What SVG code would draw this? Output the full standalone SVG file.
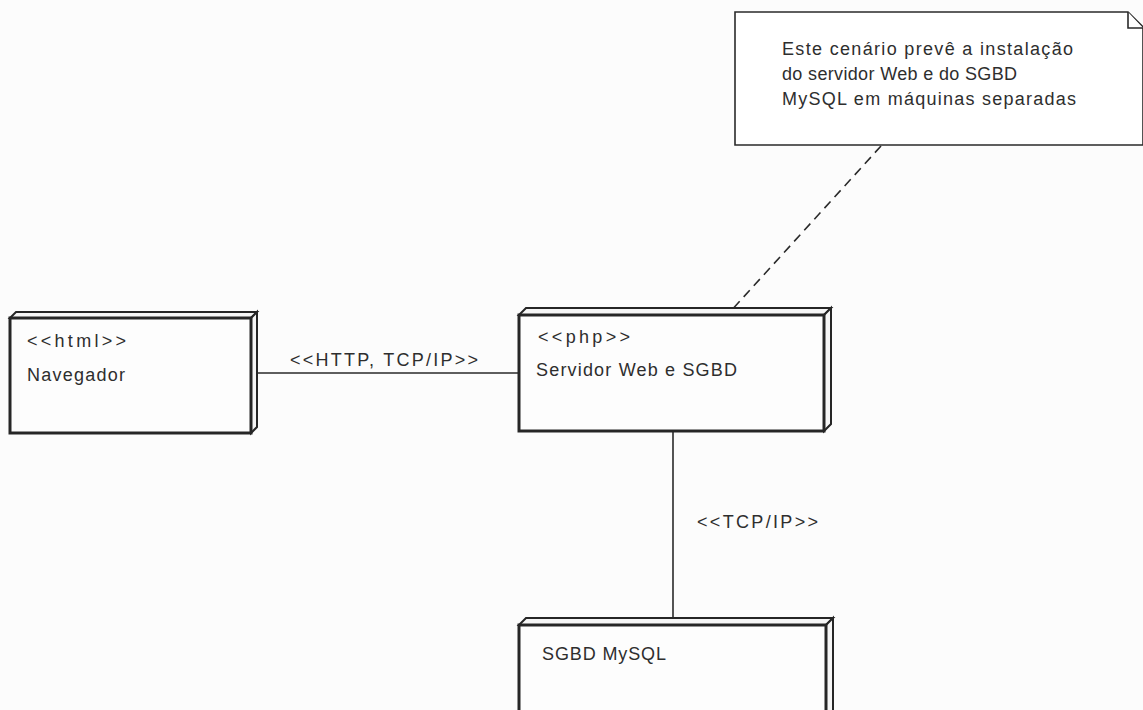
<svg xmlns="http://www.w3.org/2000/svg" width="1143" height="710" viewBox="0 0 1143 710">
  <style>
    .face { fill: #f6f6f6; stroke: #262626; stroke-width: 2; stroke-linejoin: miter; }
    .front { fill: #fdfdfd; stroke: #262626; stroke-width: 3; }
    .conn { stroke: #2a2a2a; stroke-width: 1.6; fill: none; }
    .dash { stroke: #2a2a2a; stroke-width: 1.6; fill: none; stroke-dasharray: 9 6; }
    .note { fill: #ffffff; stroke: #2a2a2a; stroke-width: 1.6; }
    text { font-family: "Liberation Sans", Arial, sans-serif; font-size: 18px; fill: #2e2e2e; }
  </style>
  <rect x="0" y="0" width="1143" height="710" fill="#fcfcfc"/>

  <g id="connectors">
    <line class="conn" x1="254" y1="373" x2="519" y2="373"/>
    <text x="290" y="366" textLength="188" lengthAdjust="spacing">&lt;&lt;HTTP, TCP/IP&gt;&gt;</text>
    <line class="conn" x1="673" y1="432" x2="673" y2="619"/>
    <text x="697" y="528" textLength="121" lengthAdjust="spacing">&lt;&lt;TCP/IP&gt;&gt;</text>
    <line class="dash" x1="881" y1="146" x2="729" y2="313"/>
  </g>

  <g id="note">
    <polygon class="note" points="735,12 1128,12 1143,27 1143,145 735,145"/>
    <polyline class="note" fill="none" points="1128,12 1128,28 1143,28"/>
    <text x="782" y="55" textLength="291" lengthAdjust="spacing">Este cenário prevê a instalação</text>
    <text x="782" y="80" textLength="235" lengthAdjust="spacing">do servidor Web e do SGBD</text>
    <text x="782" y="105" textLength="294" lengthAdjust="spacing">MySQL em máquinas separadas</text>
  </g>

  <g id="navegador">
    <polygon class="face" points="10,318 16,312 257,312 251,318"/>
    <polygon class="face" points="251,318 257,312 257,427 251,433"/>
    <rect class="front" x="10" y="318" width="241" height="115"/>
    <text x="27" y="347" textLength="99" lengthAdjust="spacing">&lt;&lt;html&gt;&gt;</text>
    <text x="27" y="381" textLength="98" lengthAdjust="spacing">Navegador</text>
  </g>

  <g id="servidor">
    <polygon class="face" points="519,315 526,308 831,308 824,315"/>
    <polygon class="face" points="824,315 831,308 831,424 824,431"/>
    <rect class="front" x="519" y="315" width="305" height="116"/>
    <text x="538" y="343" textLength="92" lengthAdjust="spacing">&lt;&lt;php&gt;&gt;</text>
    <text x="536" y="376" textLength="201" lengthAdjust="spacing">Servidor Web e SGBD</text>
  </g>

  <g id="mysql">
    <polygon class="face" points="519,625 526,618 833,618 826,625"/>
    <polygon class="face" points="826,625 833,618 833,720 826,727"/>
    <rect class="front" x="519" y="625" width="307" height="100"/>
    <text x="542" y="660" textLength="124" lengthAdjust="spacing">SGBD MySQL</text>
  </g>
</svg>
